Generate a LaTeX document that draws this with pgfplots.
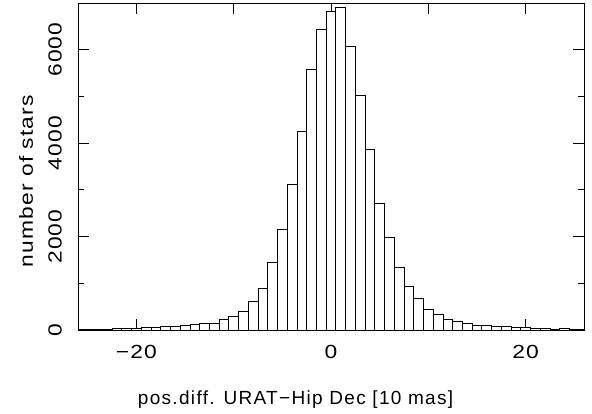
\documentclass[border=0pt]{standalone}
\usepackage{fontspec}
\setmainfont{Liberation Sans}[FakeStretch=1.2, LetterSpace=6]
\newfontfamily\xlabfont{Liberation Sans}[LetterSpace=7]
\usepackage{pgfplots}
\pgfplotsset{compat=1.18}
\begin{document}
\begin{tikzpicture}
\begin{axis}[
  scale only axis,
  width=506bp, height=327bp,
  xmin=-26, xmax=26,
  ymin=0, ymax=7000,
  axis line style={line width=0.9bp, black},
  tick align=inside,
  tick pos=both,
  major tick length=11bp,
  minor tick length=6bp,
  every tick/.style={line width=0.9bp, black},
  xtick={-20,-10,0,10,20},
  xticklabels={−20,,0,,20},
  ytick={0,2000,4000,6000},
  yticklabels={0,2000,4000,6000},
  minor ytick={1000,3000,5000},
  scaled y ticks=false,
  tick label style={font=\fontsize{19bp}{22bp}\selectfont},
  xticklabel style={anchor=north, inner sep=0pt, yshift=-15bp},
  yticklabel style={xshift=-16bp, rotate=90, anchor=south, inner sep=0pt},
  every axis x label/.style={at={(axis description cs:0.43,0)}, yshift=-75bp, anchor=base, inner sep=0pt, font=\xlabfont\fontsize{19bp}{22bp}\selectfont},
  every axis y label/.style={at={(axis description cs:0,0.455)}, xshift=-45bp, rotate=90, anchor=base, inner sep=0pt, font=\fontsize{19bp}{22bp}\selectfont},
  xlabel={pos.diff. URAT−Hip Dec [10 mas]},
  ylabel={number of stars},
  clip=true,
]
\addplot[ybar, bar width=1, bar shift=0, draw=black, fill=white, line width=0.8bp] coordinates {
(-26,10) (-25,14) (-24,21) (-23,21) (-22,28) (-21,28) (-20,36) (-19,57) (-18,57)
(-17,78) (-16,78) (-15,100) (-14,121) (-13,136) (-12,143) (-11,236) (-10,285)
(-9,390) (-8,610) (-7,890) (-6,1449) (-5,2156) (-4,3126) (-3,4255) (-2,5575)
(-1,6424) (0,6816) (1,6902) (2,6070) (3,5025) (4,3861) (5,2700) (6,1977)
(7,1338) (8,930) (9,667) (10,440) (11,330) (12,225) (13,190) (14,143)
(15,100) (16,100) (17,78) (18,78) (19,57) (20,57) (21,36) (22,28) (23,17)
(24,28) (25,14) (26,14)
};
\end{axis}
\pgfresetboundingbox
\path[use as bounding box] ([shift={(-78bp,-84bp)}]current axis.south west) rectangle ([shift={(8bp,3bp)}]current axis.north east);
\end{tikzpicture}
\end{document}
